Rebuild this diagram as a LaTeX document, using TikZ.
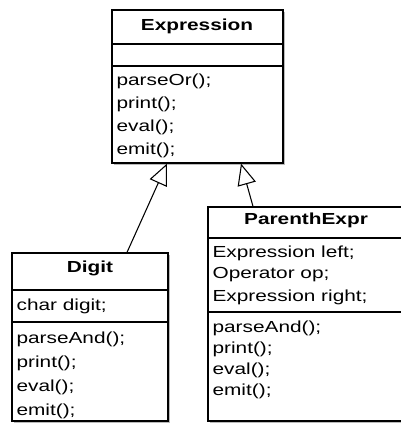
\documentclass[tikz,border=0pt]{standalone}
\usepackage{fontspec}
\setmainfont{Liberation Sans}[FakeStretch=1.3]
\usetikzlibrary{fit,arrows.meta,shadows}

\tikzset{every picture/.style={line width=0.9pt}}
\tikzset{
  classbox/.style={draw, fill=white, inner sep=0pt, drop shadow={shadow xshift=1.2pt, shadow yshift=-1.2pt, fill=black!45, opacity=0.6}},
  classname/.style={inner sep=0.75pt, font=\fontsize{12}{14}\selectfont\bfseries},
  member/.style={anchor=west, inner sep=0.75pt, font=\fontsize{12}{14}\selectfont},
  inherit/.style={-{Triangle[open, length=16pt, width=14pt]}, line width=0.8pt}
}

\begin{document}
\begin{tikzpicture}[x=0.75pt,y=0.75pt,yscale=-1,xscale=1]
		\useasboundingbox (0,0) rectangle (400,423);
		
		%Shape: Class Expression
		\node [classbox, fit={(112,10) (283,163)}] (expr) {};
		\draw (expr.west |- 0,44) -- (expr.east |- 0,44) ;
		\draw (expr.west |- 0,66) -- (expr.east |- 0,66) ;
		
		%Shape: Class Digit
		\node [classbox, fit={(12,253) (168,421)}] (digit) {};
		\draw (digit.west |- 0,290) -- (digit.east |- 0,290) ;
		\draw (digit.west |- 0,322) -- (digit.east |- 0,322) ;
		
		%Shape: Class ParenthExpr
		\node [classbox, fit={(208,207) (404,421)}] (paren) {};
		\draw (paren.west |- 0,238) -- (paren.east |- 0,238) ;
		\draw (paren.west |- 0,312) -- (paren.east |- 0,312) ;
		
		%Straight Lines
		\draw [inherit] (digit.north -| 127,0) -- (expr.south -| 167,0) ;
		%Straight Lines
		\draw [inherit] (paren.north -| 253,0) -- (expr.south -| 241,0) ;
		
		% Text Node
		\node [classname] (expr-name) at (197,26) {Expression};
		% Text Node
		\node [member] (expr-m1) at (115,81) {parseOr();};
		\node [member] (expr-m2) at (115,104) {print();};
		\node [member] (expr-m3) at (115,127) {eval();};
		\node [member] (expr-m4) at (115,150) {emit();};
		
		% Text Node
		\node [classname] (digit-name) at (90,268) {Digit};
		% Text Node
		\node [member] (digit-a1) at (15,306) {char digit;};
		\node [member] (digit-m1) at (15,339) {parseAnd();};
		\node [member] (digit-m2) at (15,363) {print();};
		\node [member] (digit-m3) at (15,387) {eval();};
		\node [member] (digit-m4) at (15,411) {emit();};
		
		% Text Node
		\node [classname] (paren-name) at (306,220) {ParenthExpr};
		% Text Node
		\node [member] (paren-a1) at (211,253) {Expression left;};
		\node [member] (paren-a2) at (211,275) {Operator op;};
		\node [member] (paren-a3) at (211,297) {Expression right;};
		\node [member] (paren-m1) at (211,328) {parseAnd();};
		\node [member] (paren-m2) at (211,349) {print();};
		\node [member] (paren-m3) at (211,370) {eval();};
		\node [member] (paren-m4) at (211,391) {emit();};
		
\end{tikzpicture}
\end{document}
